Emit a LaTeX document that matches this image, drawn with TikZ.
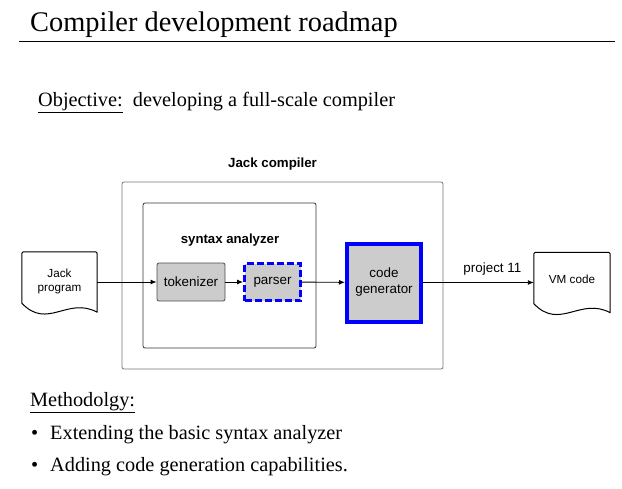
\documentclass[tikz,border=0pt]{standalone}
\usepackage{fontspec}
\setmainfont{Liberation Serif}
\newfontfamily\diafont{Liberation Sans}
\usetikzlibrary{arrows.meta,calc}
\definecolor{boxgray}{HTML}{CCCCCC}
\definecolor{edgegray}{HTML}{777777}
\newcommand\ul[1]{\underline{#1}}
\tikzset{
  slidetext/.style={anchor=base west, inner sep=0pt, font=\fontsize{20.3}{24}\selectfont},
  diatext/.style={font=\diafont\fontsize{13.4}{16}\selectfont},
  docbox/.style={draw=none, minimum width=75pt, minimum height=60pt, inner sep=0pt, align=center, font=\diafont\fontsize{11.7}{14}\selectfont},
  procbox/.style={draw=black!70, fill=boxgray, rounded corners=2pt, line width=0.8pt, inner sep=0pt, diatext},
  frame/.style={draw=edgegray, line width=0.8pt, rounded corners=2pt},
  flow/.style={line width=0.9pt, -{Latex[length=6pt,width=5pt]}},
}
\newcommand\docshape[1]{%
  \draw[line width=1pt, line join=round]
    ($(#1.south west)+(0,-9)$) [rounded corners=2pt] -- (#1.north west) -- (#1.north east) [sharp corners] -- (#1.south east)
    .. controls ($(#1.south east)+(-30,-16)$) and ($(#1.south west)+(26,18)$) .. cycle;}
\begin{document}
\begin{tikzpicture}[x=1pt,y=-1pt]
\useasboundingbox (0,0) rectangle (622,488);
% title
\node[anchor=base west, inner sep=0pt, font=\fontsize{28.4}{32}\selectfont] (title) at (30,31) {Compiler development roadmap};
\coordinate (tl) at (19,41.5);
\coordinate (tr) at (615,41.5);
\draw[line width=1pt] (tl) -- (tr);
\node[slidetext] (obj) at (38,106) {\ul{Objective:}\ \ developing a full-scale compiler};
% diagram
\node[frame, minimum width=321pt, minimum height=187pt, inner sep=0pt] (outer) at (282.5,275.5) {};
\node[font=\diafont\bfseries\fontsize{13.3}{15}\selectfont, inner sep=0pt] (jclabel) at (272.5,164) {Jack compiler};
\node[draw=black!80, line width=0.8pt, rounded corners=2pt, minimum width=173pt, minimum height=145pt, inner sep=0pt] (syn) at (229.5,275.5) {};
\node[font=\diafont\bfseries\fontsize{13.2}{15}\selectfont, inner sep=0pt] (synlabel) at (230,240) {syntax analyzer};
\node[procbox, minimum width=68pt, minimum height=38pt] (tok) at (191,282) {tokenizer};
\node[procbox, draw=blue, dashed, dash pattern=on 7pt off 3pt, line width=3pt, rounded corners=0pt, minimum width=56pt, minimum height=37pt] (par) at (272.5,282) {parser};
\node[procbox, draw=blue, line width=4pt, rounded corners=0pt, minimum width=74pt, minimum height=78pt, align=center] (cg) at (384,282.5) {code\\generator};
\node[docbox] (jp) at (59.5,282) {\raisebox{3pt}{\begin{tabular}{@{}c@{}}Jack\\program\end{tabular}}};
\docshape{jp}
\node[docbox, minimum width=76pt] (vm) at (572,282.5) {\raisebox{6pt}{VM code}};
\docshape{vm}
\draw[flow] (jp) -- (tok);
\draw[flow] (tok) -- (par);
\draw[flow] (par) -- (cg);
\draw[flow] (cg) -- node[above=7pt, diatext, inner sep=0pt, xshift=14pt] (p11) {project 11} (vm);
% methodology
\node[slidetext] (meth) at (30,406) {\ul{Methodolgy:}};
\node[slidetext] (b1) at (31,439) {\textbullet};
\node[slidetext] (t1) at (50,439) {Extending the basic syntax analyzer};
\node[slidetext] (b2) at (31,471) {\textbullet};
\node[slidetext] (t2) at (50,471) {Adding code generation capabilities.};
\end{tikzpicture}
\end{document}
